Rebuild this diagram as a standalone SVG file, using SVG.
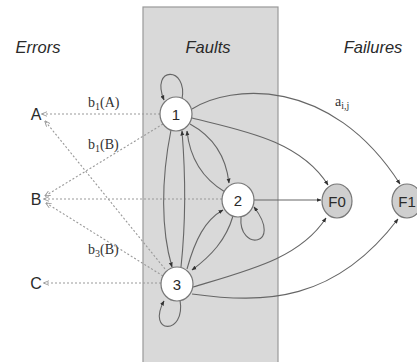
<svg xmlns="http://www.w3.org/2000/svg" width="417" height="362" viewBox="0 0 417 362">
<defs>
<style>
.hdr{font-family:"Liberation Sans",Arial,sans-serif;font-style:italic;font-size:16.5px;fill:#2a2a2a;text-anchor:middle}
.lbl{font-family:"Liberation Sans",Arial,sans-serif;font-size:16px;fill:#2a2a2a;text-anchor:middle}
.nl{font-family:"Liberation Sans",Arial,sans-serif;font-size:15px;fill:#2a2a2a;text-anchor:middle}
.el{font-family:"Liberation Serif","Times New Roman",serif;font-size:14px;fill:#333}
.node{fill:#fff;stroke:#777;stroke-width:1.2}
.fail{fill:#cfcfcf;stroke:#777;stroke-width:1.2}
.solid{fill:none;stroke:#666;stroke-width:1.1;marker-end:url(#ah)}
.dash{fill:none;stroke:#999;stroke-width:1.1;stroke-dasharray:2,2;marker-end:url(#ahd)}
</style>
<marker id="ah" viewBox="0 0 10 10" refX="9" refY="5" markerWidth="5" markerHeight="5" orient="auto" markerUnits="userSpaceOnUse">
<path d="M0,1 L10,5 L0,9 z" fill="#333"/>
</marker>
<marker id="ahd" viewBox="0 0 10 10" refX="9" refY="5" markerWidth="6" markerHeight="6" orient="auto" markerUnits="userSpaceOnUse">
<path d="M0,1 L10,5 L0,9" fill="none" stroke="#999" stroke-width="1.5"/>
</marker>
</defs>
<rect x="0" y="0" width="417" height="362" fill="#fff"/>
<rect x="143" y="7" width="135" height="360" fill="#d9d9d9" stroke="#999" stroke-width="1.2"/>
<text class="hdr" x="38" y="53">Errors</text>
<text class="hdr" x="208" y="53">Faults</text>
<text class="hdr" x="373" y="53">Failures</text>
<g id="connectors">
<path class="dash" d="M160,114 L42,114"/>
<path class="dash" d="M163,124 L45,196"/>
<path class="dash" d="M165,269 L45,121"/>
<path class="dash" d="M222,199 L44,199"/>
<path class="dash" d="M163,276 L46,203"/>
<path class="dash" d="M161,283 L44,283"/>
<path class="solid" d="M182,99 C188,66 150,66 164,100"/>
<path class="solid" d="M180,300 C186,336 146,334 164,301"/>
<path class="solid" d="M241,217 C238,252 284,246 254,207"/>
<path class="solid" d="M192,109 C230,85 330,75 400,184"/>
<path class="solid" d="M192,118 C240,130 300,140 328,185"/>
<path class="solid" d="M254,200 L321,200"/>
<path class="solid" d="M193,287 C250,270 300,258 326,218"/>
<path class="solid" d="M192,294 C265,304 335,302 398,219"/>
<path class="solid" d="M171,130 C161,180 161,230 172,267"/>
<path class="solid" d="M181,267 C186,220 186,180 182,131"/>
<path class="solid" d="M225,192 C205,180 190,160 187,131"/>
<path class="solid" d="M190,124 C212,136 226,156 229,183"/>
<path class="solid" d="M187,269 C195,240 205,220 223,210"/>
<path class="solid" d="M233,216 C226,240 211,256 192,270"/>
</g>
<text class="el" x="88" y="107">b<tspan font-size="10" dy="3">1</tspan><tspan dy="-3">(A)</tspan></text>
<text class="el" x="88" y="149">b<tspan font-size="10" dy="3">1</tspan><tspan dy="-3">(B)</tspan></text>
<text class="el" x="88" y="254">b<tspan font-size="10" dy="3">3</tspan><tspan dy="-3">(B)</tspan></text>
<text class="el" x="335" y="106">a<tspan font-size="10" dy="3">i,j</tspan></text>
<g id="A"><text class="lbl" x="36" y="120">A</text></g>
<g id="B"><text class="lbl" x="36" y="205">B</text></g>
<g id="C"><text class="lbl" x="36" y="289">C</text></g>
<g id="n1"><ellipse class="node" cx="176" cy="114" rx="16" ry="17"/><text class="nl" x="176" y="120">1</text></g>
<g id="n2"><ellipse class="node" cx="238" cy="200" rx="16" ry="17"/><text class="nl" x="238" y="206">2</text></g>
<g id="n3"><ellipse class="node" cx="177" cy="284" rx="16" ry="17"/><text class="nl" x="177" y="290">3</text></g>
<g id="F0"><ellipse class="fail" cx="337" cy="201" rx="15" ry="17"/><text class="nl" x="337" y="207">F0</text></g>
<g id="F1"><ellipse class="fail" cx="407" cy="201" rx="15" ry="17"/><text class="nl" x="407" y="207">F1</text></g>
</svg>
